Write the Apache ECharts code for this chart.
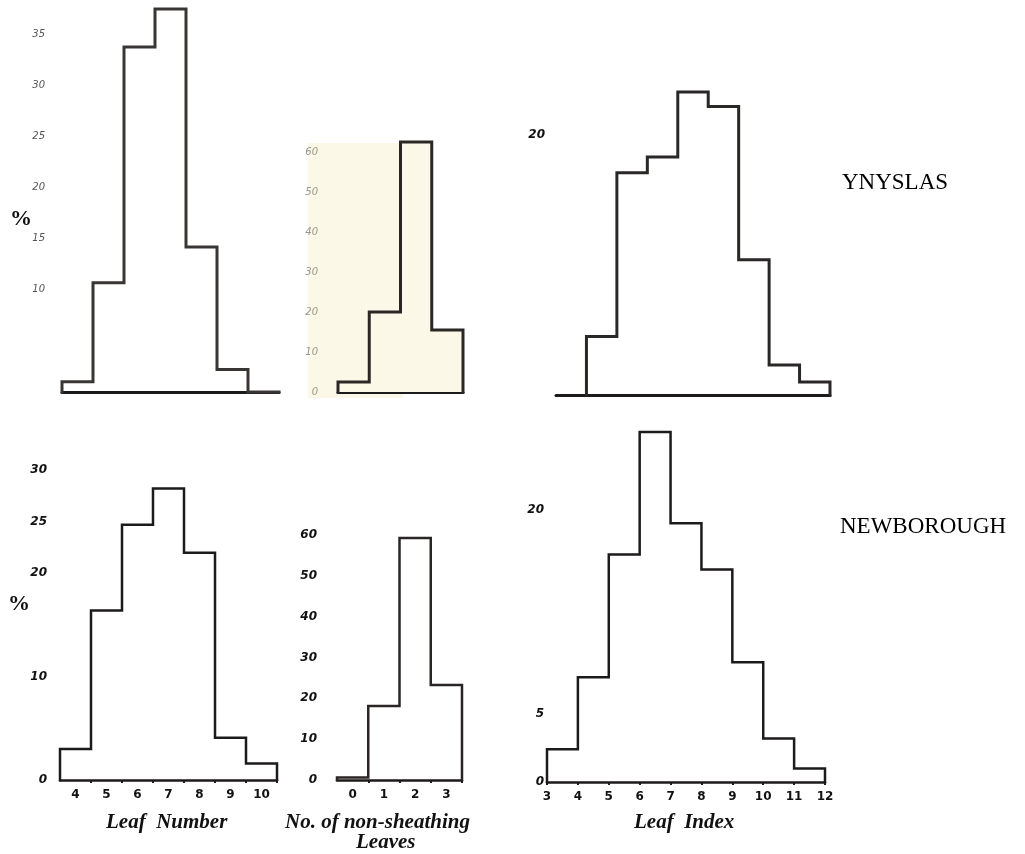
<!DOCTYPE html>
<html>
<head>
<meta charset="utf-8">
<title>Leaf histograms</title>
<script src="https://cdn.jsdelivr.net/npm/echarts@6/dist/echarts.min.js"></script>
<style>
  html, body { margin: 0; padding: 0; background: #fff; }
  #chart { width: 1025px; height: 854px; }
</style>
</head>
<body>
<div id="chart"></div>
<script>
// categories
const leafNumber = [4, 5, 6, 7, 8, 9, 10];
const nonSheathing = [0, 1, 2, 3];
const leafIndexYnyslas = [4, 5, 6, 7, 8, 9, 10, 11];
const leafIndexNewborough = [3, 4, 5, 6, 7, 8, 9, 10, 11];

// % values
const ynyslasLeafNumber = [1.0, 10.7, 33.8, 37.5, 14.2, 2.2, 0];
const newboroughLeafNumber = [3.0, 16.4, 24.7, 28.2, 22.0, 4.1, 1.6];
const ynyslasNonSheathing = [2.5, 20, 62.5, 15.5];
const newboroughNonSheathing = [0.6, 18.1, 59.3, 23.3];
const ynyslasLeafIndex = [4.5, 17.1, 18.3, 23.3, 22.2, 10.4, 2.3, 1.0];
const newboroughLeafIndex = [2.4, 7.7, 16.7, 25.7, 19.0, 15.6, 8.8, 3.2, 1.0];

// tick labels
const ticksA = [10, 15, 20, 25, 30, 35];
const ticksB = [0, 10, 20, 30, 40, 50, 60];
const ticksC = [20];
const ticksD = [0, 10, 20, 25, 30];
const ticksE = [0, 10, 20, 30, 40, 50, 60];
const ticksF = [0, 5, 20];
const xLabelsIndex = [3, 4, 5, 6, 7, 8, 9, 10, 11, 12];

// histogram outline: bins centred on a value (offset -0.5) or starting at it (offset 0)
function outline(cats, vals, offset) {
  const edges = cats.map(c => c + offset);
  edges.push(cats[cats.length - 1] + offset + 1);
  const pts = [[edges[0], 0]];
  vals.forEach((v, i) => pts.push([edges[i], v]));
  pts.push([edges[vals.length], 0]);
  return pts;
}

const ink = '#1c1a1a';
const sans = 'DejaVu Sans';
const cream = '#fcf8e8';

function xAx(idx, min, max, line, labels, ticks) {
  return {
    type: 'value', gridIndex: idx, min: min, max: max,
    splitLine: { show: false },
    axisLine: { show: true, onZero: false, lineStyle: { color: ink, width: line } },
    axisTick: ticks ? { show: true, length: 3, customValues: ticks, lineStyle: { color: ink, width: 2 } } : { show: false },
    axisLabel: labels ? {
      show: true, customValues: labels, margin: 9,
      fontFamily: sans, fontWeight: 'bold', fontSize: 12, color: '#111'
    } : { show: false }
  };
}

function yAx(idx, max, labels, margin, light) {
  return {
    type: 'value', gridIndex: idx, min: 0, max: max,
    splitLine: { show: false },
    axisLine: { show: false },
    axisTick: { show: false },
    axisLabel: {
      customValues: labels, margin: margin,
      fontFamily: sans, fontStyle: 'italic',
      fontWeight: light ? 'normal' : 'bold',
      fontSize: light ? 10 : 12,
      color: light || '#111'
    }
  };
}

function hist(idx, data, color, width, fill) {
  return {
    type: 'line', step: 'end', xAxisIndex: idx, yAxisIndex: idx,
    data: data, symbol: 'none', clip: false, silent: true,
    lineStyle: { color: color, width: width, join: 'miter', cap: 'square' },
    areaStyle: fill ? { color: fill, opacity: 1 } : undefined,
    z: 3
  };
}

const chartDom = document.getElementById('chart');
const myChart = echarts.init(chartDom, null, { renderer: 'canvas' });

const titleFont = 'italic bold 21px "Liberation Serif"';

const option = {
  animation: false,
  backgroundColor: '#fff',
  grid: [
    { left: 62, top: 4, width: 217, height: 388 },
    { left: 338, top: 136, width: 125, height: 256 },
    { left: 556, top: 83, width: 274, height: 312 },
    { left: 60, top: 470, width: 217, height: 310 },
    { left: 337, top: 531, width: 125, height: 249 },
    { left: 547, top: 428, width: 278, height: 354 }
  ],
  xAxis: [
    xAx(0, 3.5, 10.5, 3),
    xAx(1, -0.5, 3.5, 3),
    xAx(2, 3, 12, 3),
    xAx(3, 3.5, 10.5, 2.5, leafNumber, [4.5, 5.5, 6.5, 7.5, 8.5, 9.5, 10.5]),
    xAx(4, -0.5, 3.5, 2.5, nonSheathing, [0.5, 1.5, 2.5, 3.5]),
    xAx(5, 3, 12, 2.5, xLabelsIndex, xLabelsIndex)
  ],
  yAxis: [
    yAx(0, 38, ticksA, 17, '#555'),
    yAx(1, 64, ticksB, 20, '#9a9688'),
    yAx(2, 24, ticksC, 11),
    yAx(3, 30, ticksD, 13),
    yAx(4, 61, ticksE, 20),
    yAx(5, 26, ticksF, 3)
  ],
  graphic: [
    // cream paper patch behind the scanned middle panel
    { type: 'rect', z: -1, shape: { x: 308, y: 143, width: 95, height: 255 }, style: { fill: cream } },
    { type: 'text', left: 10, top: 208, style: { text: '%', font: 'bold 22px "Liberation Serif"', fill: '#111' } },
    { type: 'text', left: 8, top: 593, style: { text: '%', font: 'bold 22px "Liberation Serif"', fill: '#111' } },
    { type: 'text', left: 842, top: 171, style: { text: 'YNYSLAS', font: '23px "Liberation Serif"', fill: '#000' } },
    { type: 'text', left: 840, top: 515, style: { text: 'NEWBOROUGH', font: '23px "Liberation Serif"', fill: '#000' } },
    { type: 'text', left: 106, top: 812, style: { text: 'Leaf  Number', font: titleFont, fill: '#111' } },
    { type: 'text', left: 285, top: 812, style: { text: 'No. of non-sheathing', font: titleFont, fill: '#111' } },
    { type: 'text', left: 356, top: 832, style: { text: 'Leaves', font: titleFont, fill: '#111' } },
    { type: 'text', left: 634, top: 812, style: { text: 'Leaf  Index', font: titleFont, fill: '#111' } }
  ],
  series: [
    hist(0, outline(leafNumber, ynyslasLeafNumber, -0.5), '#3a3535', 3),
    hist(1, outline(nonSheathing, ynyslasNonSheathing, -0.5), '#2a2724', 3, cream),
    hist(2, outline(leafIndexYnyslas, ynyslasLeafIndex, 0), '#2a2727', 3),
    hist(3, outline(leafNumber, newboroughLeafNumber, -0.5), ink, 2.5),
    hist(4, outline(nonSheathing, newboroughNonSheathing, -0.5), '#2a2424', 2.5),
    hist(5, outline(leafIndexNewborough, newboroughLeafIndex, 0), ink, 2.5)
  ]
};

option && myChart.setOption(option);
</script>
</body>
</html>
